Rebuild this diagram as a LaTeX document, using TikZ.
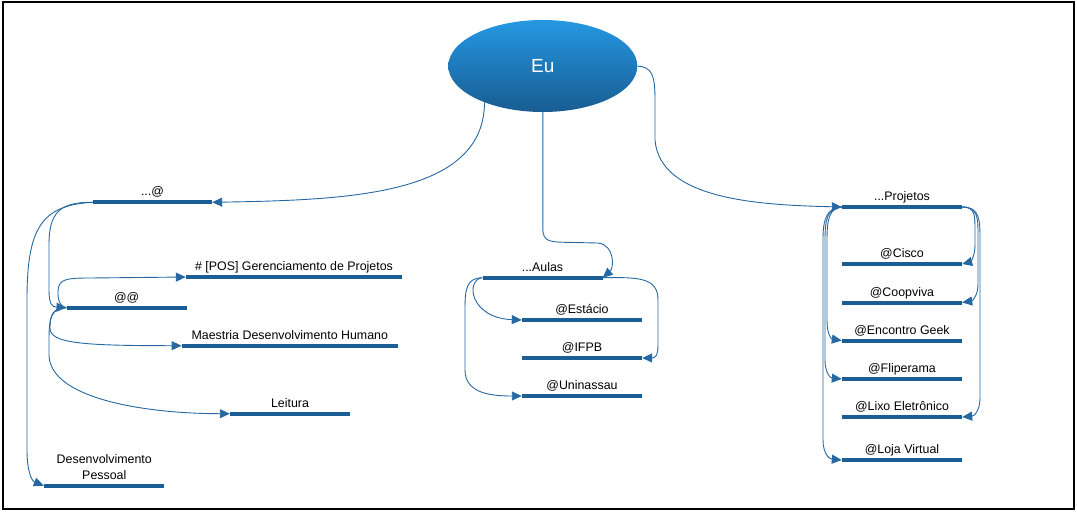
\documentclass[tikz,border=0pt]{standalone}
\usepackage{fontspec}
\setmainfont{Liberation Sans}
\usetikzlibrary{arrows.meta,shapes.geometric}
\definecolor{barc}{RGB}{27,94,150}
\definecolor{linec}{RGB}{38,104,162}
\definecolor{topc}{RGB}{37,152,226}
\definecolor{botc}{RGB}{24,92,146}
\tikzset{
  barnode/.style={rectangle,fill=barc,inner sep=0pt,minimum height=4pt},
  lbl/.style={inner sep=0pt,anchor=base,font=\fontsize{12.4}{16}\selectfont,text=black},
  conn/.style={draw=linec,line width=0.9pt,-{Triangle[length=10pt,width=9pt]}},
}
% \mbar{name}{x}{y}{width}{text}
\newcommand\mbar[5]{%
  \node[barnode,minimum width=#4pt] (#1) at (#2,#3) {};
  \node[lbl] (#1-l) at ([yshift=6.5pt]#1.center) {#5};
}
\begin{document}
\begin{tikzpicture}[x=1pt,y=-1pt]
\useasboundingbox (0,0) rectangle (1077,512);
\draw[line width=2pt,black] (3,2) rectangle (1073.5,509.3);

\node[ellipse,minimum width=189pt,minimum height=92pt,inner sep=0pt,
  top color=topc,bottom color=botc,text=white,
  font=\fontsize{19}{22}\selectfont] (eu) at (542.8,66) {Eu};

\mbar{at}{152.5}{202.3}{119}{...@}
\mbar{pos}{294}{277}{216}{\# [POS] Gerenciamento de Projetos}
\mbar{aa}{126.7}{307.7}{120}{@@}
\mbar{mae}{289.8}{345.7}{216}{Maestria Desenvolvimento Humano}
\mbar{lei}{290}{413.7}{120}{Leitura}
\node[barnode,minimum width=120pt] (dp) at (104,485.7) {};
\node[inner sep=0pt,anchor=south,align=center,font=\fontsize{12.4}{16}\selectfont] (dp-l) at (104.3,480) {Desenvolvimento\\Pessoal};

\mbar{aulas}{542.5}{277.7}{120}{...Aulas}
\mbar{est}{582}{320}{120}{@Estácio}
\mbar{ifpb}{582}{358}{120}{@IFPB}
\mbar{uni}{582}{396}{120}{@Uninassau}

\mbar{proj}{902}{207}{120}{...Projetos}
\mbar{cisco}{902}{264}{120}{@Cisco}
\mbar{coop}{902}{302.5}{120}{@Coopviva}
\mbar{geek}{902}{340.5}{120}{@Encontro Geek}
\mbar{flip}{902}{379}{120}{@Fliperama}
\mbar{lixo}{902}{417}{120}{@Lixo Eletrônico}
\mbar{loja}{902}{460}{120}{@Loja Virtual}

% Eu connectors
\draw[conn] (eu.212) .. controls (484,195) and (350,200) .. (at.east);
\draw[conn] (eu.south) -- (542.8,228) .. controls (542.8,243) and (550,242) .. (575,242.5)
  -- (598,243) .. controls (615,245) and (614,268) .. (aulas.east);
\draw[conn] (eu.east) .. controls (652,67) and (655,75) .. (655,100) -- (655,140)
  .. controls (660,200) and (760,205) .. (proj.west);

% ...@ branch
\draw[conn] (at.west) .. controls (60,202) and (49,212) .. (49,245) -- (49,290)
  .. controls (49,304) and (52,307) .. (aa.west);
\draw[conn] (at.west) .. controls (40,205) and (27,230) .. (27,300) -- (27,450)
  .. controls (27,472) and (32,481) .. (dp.west);

% @@ branch
\draw[conn] (aa.west) .. controls (59,306) and (58,300) .. (58,292)
  .. controls (58,279) and (66,278) .. (90,278) -- (pos.west);
\draw[conn] (aa.west) .. controls (52,308) and (50,316) .. (50,328)
  .. controls (50,343) and (80,345.7) .. (mae.west);
\draw[conn] (aa.west) .. controls (51,308) and (49,318) .. (49,340) -- (49,355)
  .. controls (50,400) and (150,413.7) .. (lei.west);

% ...Aulas branch
\draw[conn] (aulas.west) .. controls (465,280) and (470,318) .. (est.west);
\draw[conn] (aulas.west) .. controls (466,278) and (465,290) .. (465,310) -- (465,370)
  .. controls (465,393) and (490,396) .. (uni.west);
\draw[conn] (aulas.east) .. controls (640,277) and (658,278) .. (658,300) -- (658,345)
  .. controls (658,356) and (655,358) .. (ifpb.east);

% ...Projetos branch
\draw[conn] (proj.east) .. controls (975,207) and (975,215) .. (975,230) -- (975,245)
  .. controls (975,257) and (970,262) .. (cisco.east);
\draw[conn] (proj.east) .. controls (978,207) and (978,218) .. (978,235) -- (978,284)
  .. controls (978,296) and (972,301) .. (coop.east);
\draw[conn] (proj.east) .. controls (980,207) and (980,220) .. (980,240) -- (980,398)
  .. controls (980,411) and (974,416) .. (lixo.east);
\draw[conn] (proj.west) .. controls (829,208) and (827,220) .. (827,240) -- (827,320)
  .. controls (827,334) and (831,339) .. (geek.west);
\draw[conn] (proj.west) .. controls (827,208) and (825,220) .. (825,240) -- (825,360)
  .. controls (825,372) and (830,378) .. (flip.west);
\draw[conn] (proj.west) .. controls (826,208) and (823,220) .. (823,240) -- (823,440)
  .. controls (823,453) and (829,459) .. (loja.west);
\end{tikzpicture}
\end{document}
